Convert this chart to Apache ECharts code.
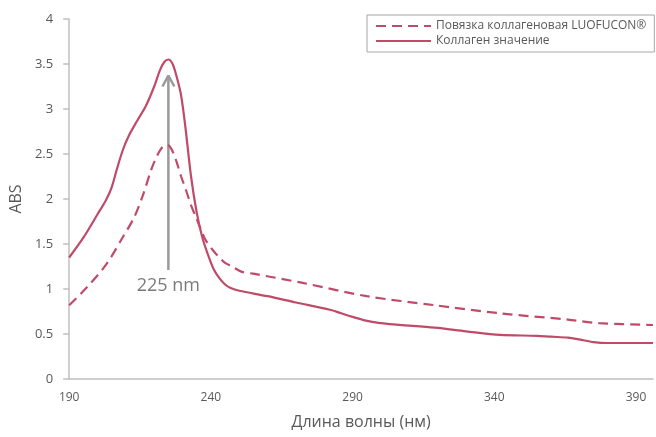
<!DOCTYPE html>
<html>
<head>
<meta charset="utf-8">
<script src="https://cdn.jsdelivr.net/npm/echarts@6/dist/echarts.min.js"></script>
<style>html,body{margin:0;padding:0;background:#fff;}#c{width:656px;height:437px;}</style>
</head>
<body>
<div id="c"></div>
<script>
// Data
const seriesNames = ['Повязка коллагеновая LUOFUCON®', 'Коллаген значение'];
const xTicks = [190, 240, 290, 340, 390];
const solidNm = [190,195,200,203,205,207,209,211,214,217,220,222,223.5,225,226.5,228,229.5,231,233,235,237,239,241,243,245,247,250,260,270,282,286,290,296,303,319,330,342,355,360,366,370,375,380,396];
const solidAbs = [1.35,1.57,1.83,1.99,2.13,2.35,2.55,2.70,2.87,3.03,3.25,3.43,3.52,3.55,3.50,3.35,3.15,2.80,2.25,1.85,1.57,1.38,1.22,1.12,1.05,1.01,0.98,0.92,0.85,0.77,0.73,0.69,0.64,0.61,0.57,0.53,0.49,0.48,0.47,0.46,0.44,0.41,0.40,0.40];
const dashNm = [190,196,203,209,213,216,219,221,223,224.7,226,227.6,229.5,231.2,233,234.7,236.5,238.2,241,243,245,247.5,251,255,272,295,319,342,366,377,396];
const dashAbs = [0.82,1.01,1.27,1.58,1.80,2.04,2.33,2.48,2.58,2.60,2.56,2.44,2.25,2.10,1.93,1.80,1.66,1.54,1.42,1.35,1.29,1.25,1.19,1.17,1.07,0.92,0.82,0.73,0.66,0.62,0.60];
const peakNm = 225;
const arrowFrom = 1.21;
const arrowTo = 3.37;
const arrowLabel = '225 nm';

const zip = (a, b) => a.map((v, i) => [v, b[i]]);
const lineColor = '#bf4b69';
const grayText = '#595959';
const axisGray = '#bfbfbf';
const arrowGray = '#9a9a9a';
const font = '"Open Sans", "Noto Sans", sans-serif';

const chart = echarts.init(document.getElementById('c'), null, {renderer: 'canvas'});
chart.setOption({
  animation: false,
  backgroundColor: '#fff',
  textStyle: {fontFamily: font},
  grid: {left: 66, right: 3, top: 19, bottom: 58},
  legend: {
    data: seriesNames,
    orient: 'vertical',
    left: 367, top: 15,
    padding: [5, 8, 5, 8],
    itemWidth: 55, itemHeight: 14, itemGap: 3,
    borderColor: '#a6a6a6', borderWidth: 1,
    itemStyle: {opacity: 0},
    textStyle: {color: grayText, fontSize: 12, fontFamily: font}
  },
  xAxis: {
    type: 'value', min: 190, max: 396, interval: 50,
    name: 'Длина волны (нм)', nameLocation: 'middle', nameGap: 35,
    nameTextStyle: {color: grayText, fontSize: 16, fontFamily: font},
    axisLine: {lineStyle: {color: axisGray, width: 1.5}},
    axisTick: {show: false},
    splitLine: {show: false},
    axisLabel: {color: grayText, fontSize: 12, margin: 13, fontFamily: font,
      formatter: v => xTicks.includes(v) ? String(v) : ''}
  },
  yAxis: {
    type: 'value', min: 0, max: 4, interval: 0.5,
    name: 'ABS', nameLocation: 'middle', nameGap: 40,
    nameTextStyle: {color: grayText, fontSize: 16, fontFamily: font},
    axisLine: {show: true, lineStyle: {color: axisGray, width: 1.5}},
    axisTick: {show: true, length: 6, lineStyle: {color: axisGray, width: 1.5}},
    splitLine: {show: false},
    axisLabel: {color: grayText, fontSize: 13, margin: 16, fontFamily: font}
  },
  series: [
    {
      name: seriesNames[0], type: 'line', data: zip(dashNm, dashAbs),
      symbol: 'none', smooth: 0.3,
      lineStyle: {color: lineColor, width: 2.2, type: [10, 6]},
      itemStyle: {color: lineColor}, z: 3
    },
    {
      name: seriesNames[1], type: 'line', data: zip(solidNm, solidAbs),
      symbol: 'none', smooth: 0.3,
      lineStyle: {color: lineColor, width: 2.2},
      itemStyle: {color: lineColor}, z: 3
    },
    {
      name: 'arrow', type: 'line',
      data: [[peakNm, arrowFrom], [peakNm, arrowTo]],
      symbol: 'none', lineStyle: {color: arrowGray, width: 2.5}, z: 2, silent: true
    },
    {
      name: 'arrowhead', type: 'line',
      data: [[peakNm - 2.1, arrowTo - 0.12], [peakNm, arrowTo], [peakNm + 2.1, arrowTo - 0.12]],
      symbol: 'none', lineStyle: {color: arrowGray, width: 2.5}, z: 2, silent: true
    },
    {
      name: 'arrowLabel', type: 'scatter',
      data: [[peakNm, arrowFrom]],
      symbolSize: 0, silent: true,
      label: {show: true, position: 'bottom', distance: 7, formatter: arrowLabel,
        color: grayText, fontSize: 18, fontFamily: font}
    }
  ]
});
</script>
</body>
</html>
